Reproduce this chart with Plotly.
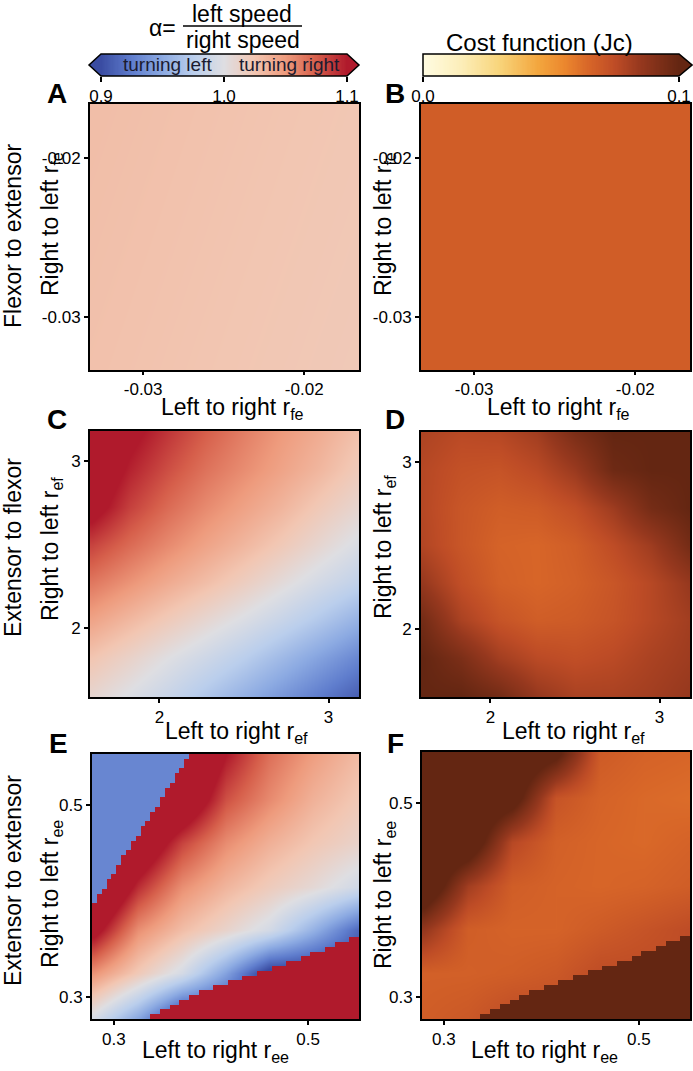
import numpy as np
import plotly.graph_objects as go

W, H = 693, 1071
FONT = "Liberation Sans, Arial, sans-serif"

# ---------------- data ----------------
# Panels A/B : flexor -> extensor coupling (x: left to right r_fe, y: right to left r_fe)
ab_x = [-0.0333, -0.0250, -0.0166]
ab_y = [-0.0333, -0.0250, -0.0166]
a_alpha = [
    [1.028, 1.025, 1.022],
    [1.029, 1.026, 1.023],
    [1.030, 1.027, 1.024],
]
b_cost = [
    [0.068, 0.068, 0.068],
    [0.068, 0.068, 0.068],
    [0.068, 0.068, 0.068],
]

# Panels C/D : extensor -> flexor coupling (r_ef)
cd_x = [1.6, 1.825, 2.05, 2.275, 2.5, 2.725, 2.95, 3.175]
cd_y = [1.6, 1.825, 2.05, 2.275, 2.5, 2.725, 2.95, 3.175]
c_alpha = [
    [1.010, 0.998, 0.985, 0.970, 0.955, 0.940, 0.925, 0.910],
    [1.025, 1.013, 1.000, 0.988, 0.975, 0.960, 0.945, 0.930],
    [1.045, 1.033, 1.021, 1.009, 0.997, 0.984, 0.970, 0.955],
    [1.065, 1.053, 1.041, 1.030, 1.018, 1.005, 0.992, 0.980],
    [1.085, 1.070, 1.057, 1.045, 1.034, 1.022, 1.009, 0.996],
    [1.110, 1.086, 1.070, 1.057, 1.046, 1.035, 1.022, 1.010],
    [1.120, 1.097, 1.081, 1.067, 1.056, 1.045, 1.034, 1.021],
    [1.125, 1.106, 1.090, 1.075, 1.062, 1.050, 1.040, 1.028],
]
d_cost = [
    [0.100, 0.100, 0.095, 0.085, 0.080, 0.080, 0.082, 0.085],
    [0.100, 0.093, 0.082, 0.076, 0.074, 0.076, 0.080, 0.083],
    [0.095, 0.080, 0.072, 0.068, 0.069, 0.072, 0.077, 0.082],
    [0.085, 0.074, 0.067, 0.065, 0.067, 0.071, 0.077, 0.085],
    [0.078, 0.071, 0.066, 0.065, 0.068, 0.075, 0.083, 0.095],
    [0.077, 0.071, 0.068, 0.069, 0.074, 0.083, 0.095, 0.100],
    [0.077, 0.073, 0.072, 0.076, 0.084, 0.097, 0.100, 0.100],
    [0.079, 0.076, 0.077, 0.082, 0.093, 0.100, 0.100, 0.100],
]

# Panels E/F : extensor -> extensor coupling (r_ee), smooth part (coarse samples)
ef_x = [0.28, 0.325, 0.37, 0.415, 0.46, 0.505, 0.55]
ef_y = [0.28, 0.325, 0.37, 0.415, 0.46, 0.505, 0.55]
e_alpha = [
    [0.995, 0.950, 0.890, 0.890, 0.890, 0.890, 0.890],
    [1.053, 1.022, 0.993, 0.945, 0.890, 0.890, 0.890],
    [1.110, 1.055, 1.030, 1.012, 0.992, 0.955, 0.915],
    [1.150, 1.093, 1.055, 1.035, 1.020, 1.007, 0.990],
    [1.150, 1.130, 1.085, 1.056, 1.038, 1.024, 1.013],
    [1.150, 1.150, 1.130, 1.080, 1.057, 1.037, 1.023],
    [1.150, 1.150, 1.150, 1.100, 1.068, 1.048, 1.032],
]
f_cost = [
    [0.068, 0.070, 0.075, 0.075, 0.075, 0.075, 0.075],
    [0.067, 0.067, 0.068, 0.070, 0.075, 0.075, 0.075],
    [0.086, 0.068, 0.066, 0.066, 0.069, 0.072, 0.075],
    [0.115, 0.082, 0.068, 0.066, 0.065, 0.066, 0.068],
    [0.115, 0.113, 0.077, 0.067, 0.065, 0.064, 0.066],
    [0.115, 0.115, 0.108, 0.072, 0.066, 0.064, 0.063],
    [0.115, 0.115, 0.115, 0.104, 0.069, 0.066, 0.065],
]
# E/F fine simulation grid (0.28 .. 0.55, step 0.005) : out-of-regime regions
ef_fine_start = 0.28
ef_fine_step = 0.005
ef_fine_n = 55
# number of cells (from the left) in the turning-left regime, per row (bottom -> top)
e_left_regime_cols = [0] * 24 + [1, 1, 2, 3, 3, 4, 5, 5, 6, 6, 7, 8, 8, 9, 10, 10,
                                 11, 12, 12, 13, 14, 14, 15, 15, 16, 17, 17, 18, 19, 19, 20]
# number of cells (from the right) beyond the colour range, per row (bottom -> top)
e_over_cols = [43, 41, 39, 37, 35, 33, 30, 27, 24, 21, 18, 15, 12, 10, 7, 5, 2] + [0] * 38
e_left_regime_alpha = 0.93
e_over_alpha = 1.2
f_over_cost = 0.12

# colour bars
alpha_ticks = [0.9, 1.0, 1.1]
alpha_ticktext = ["0.9", "1.0", "1.1"]
cost_ticks = [0.0, 0.1]
cost_ticktext = ["0.0", "0.1"]

# ---------------- colours ----------------
alpha_scale = [
    [0.0, "rgb(58,76,162)"], [0.125, "rgb(95,125,205)"], [0.25, "rgb(140,170,226)"],
    [0.375, "rgb(186,206,236)"], [0.5, "rgb(222,222,226)"], [0.625, "rgb(242,198,178)"],
    [0.75, "rgb(238,155,125)"], [0.875, "rgb(214,95,75)"], [1.0, "rgb(176,26,44)"],
]
cost_scale = [
    [0.0, "rgb(255,252,226)"], [0.15, "rgb(252,238,185)"], [0.3, "rgb(248,212,122)"],
    [0.45, "rgb(243,166,62)"], [0.55, "rgb(236,136,46)"], [0.65, "rgb(215,101,40)"],
    [0.75, "rgb(190,76,38)"], [0.85, "rgb(150,56,30)"], [1.0, "rgb(100,38,18)"],
]
ALPHA_UNDER = "rgb(58,76,162)"
ALPHA_OVER = "rgb(176,26,44)"
COST_OVER = "rgb(100,38,18)"


def fx(p):
    return p / W


def fy(p):
    return 1 - p / H


fig = go.Figure()

# ---------------- heatmaps ----------------
def hm(x, y, z, scale, zmin, zmax, ax, smooth="best"):
    fig.add_trace(go.Heatmap(x=x, y=y, z=z, colorscale=scale, zmin=zmin, zmax=zmax,
                             zsmooth=smooth, showscale=False, hoverinfo="skip",
                             xaxis="x" + ax, yaxis="y" + ax))


hm(ab_x, ab_y, a_alpha, alpha_scale, 0.9, 1.1, "")
hm(ab_x, ab_y, b_cost, cost_scale, 0.0, 0.1, "2")
hm(cd_x, cd_y, c_alpha, alpha_scale, 0.9, 1.1, "3")
hm(cd_x, cd_y, d_cost, cost_scale, 0.0, 0.1, "4")
hm(ef_x, ef_y, e_alpha, alpha_scale, 0.9, 1.1, "5")
hm(ef_x, ef_y, f_cost, cost_scale, 0.0, 0.1, "6")

# fine-grid regime regions of E / F
e_regions = []
f_regions = []
for r in range(ef_fine_n):
    row_e = [None] * ef_fine_n
    row_f = [None] * ef_fine_n
    for c in range(e_left_regime_cols[r]):
        row_e[c] = e_left_regime_alpha
    for c in range(ef_fine_n - e_over_cols[r], ef_fine_n):
        row_e[c] = e_over_alpha
        row_f[c] = f_over_cost
    e_regions.append(row_e)
    f_regions.append(row_f)

for z, scale, zmin, zmax, ax in [(e_regions, alpha_scale, 0.9, 1.1, "5"),
                                 (f_regions, cost_scale, 0.0, 0.1, "6")]:
    fig.add_trace(go.Heatmap(z=z, x0=ef_fine_start, dx=ef_fine_step,
                             y0=ef_fine_start, dy=ef_fine_step,
                             colorscale=scale, zmin=zmin, zmax=zmax, zsmooth=False,
                             showscale=False, hoverinfo="skip",
                             xaxis="x" + ax, yaxis="y" + ax))

# colour bar gradients
alpha_bar = np.linspace(alpha_ticks[0], alpha_ticks[-1], 201)
cost_bar = np.linspace(cost_ticks[0], cost_ticks[-1], 201)
fig.add_trace(go.Heatmap(x=alpha_bar, y=[0], z=[alpha_bar], colorscale=alpha_scale,
                         zmin=0.9, zmax=1.1, showscale=False, hoverinfo="skip",
                         xaxis="x7", yaxis="y7"))
fig.add_trace(go.Heatmap(x=cost_bar, y=[0], z=[cost_bar], colorscale=cost_scale,
                         zmin=0.0, zmax=0.1, showscale=False, hoverinfo="skip",
                         xaxis="x8", yaxis="y8"))

# ---------------- axes ----------------
tickfont = dict(family=FONT, size=17, color="black")
axis_style = dict(showline=True, linewidth=2, linecolor="black", mirror=True,
                  ticks="outside", ticklen=4, tickwidth=1.5, tickcolor="black",
                  showgrid=False, zeroline=False, tickfont=tickfont, fixedrange=True,
                  automargin=False)

boxes = {
    "": (90, 359, 104, 370),
    "2": (421, 690, 104, 370),
    "3": (90, 359, 431, 697),
    "4": (421, 690, 432, 697),
    "5": (92, 359, 754, 1019),
    "6": (422, 690, 752, 1019),
}
ranges = {
    "": ([-0.0333, -0.0166], [-0.03, -0.02], ["-0.03", "-0.02"]),
    "2": ([-0.0333, -0.0166], [-0.03, -0.02], ["-0.03", "-0.02"]),
    "3": ([1.59, 3.18], [2, 3], ["2", "3"]),
    "4": ([1.59, 3.18], [2, 3], ["2", "3"]),
    "5": ([0.2775, 0.5525], [0.3, 0.5], ["0.3", "0.5"]),
    "6": ([0.2775, 0.5525], [0.3, 0.5], ["0.3", "0.5"]),
}
layout_axes = {}
for k, (l, r, t, b) in boxes.items():
    rng, tv, tt = ranges[k]
    layout_axes["xaxis" + k] = dict(axis_style, domain=[fx(l), fx(r)], range=rng,
                                    tickvals=tv, ticktext=tt, anchor="y" + k)
    layout_axes["yaxis" + k] = dict(axis_style, domain=[fy(b), fy(t)], range=rng,
                                    tickvals=tv, ticktext=tt, anchor="x" + k)
# top row x tick labels sit a little closer to the frame
layout_axes["xaxis"]["ticklen"] = 3
layout_axes["xaxis2"]["ticklen"] = 3

bar_axis = dict(showline=False, ticks="outside", ticklen=5, tickwidth=1.5,
                tickcolor="black", showgrid=False, zeroline=False, tickfont=tickfont,
                fixedrange=True, automargin=False)
layout_axes["xaxis7"] = dict(bar_axis, domain=[fx(101), fx(347)], range=[0.9, 1.1],
                             tickvals=alpha_ticks, ticktext=alpha_ticktext, anchor="y7")
layout_axes["yaxis7"] = dict(domain=[fy(76), fy(54)], range=[-0.5, 0.5], visible=False,
                             anchor="x7", fixedrange=True)
layout_axes["xaxis8"] = dict(bar_axis, domain=[fx(423), fx(679)], range=[0.0, 0.1],
                             tickvals=cost_ticks, ticktext=cost_ticktext, anchor="y8")
layout_axes["yaxis8"] = dict(domain=[fy(76), fy(54)], range=[-0.5, 0.5], visible=False,
                             anchor="x8", fixedrange=True)


def path(points):
    s = "M " + " L ".join(f"{fx(x):.5f},{fy(y):.5f}" for x, y in points) + " Z"
    return s


shapes = [
    # colour bar extension arrows
    dict(type="path", xref="paper", yref="paper", path=path([(101, 54), (89, 65), (101, 76)]),
         fillcolor=ALPHA_UNDER, line=dict(width=0)),
    dict(type="path", xref="paper", yref="paper", path=path([(347, 54), (359, 65), (347, 76)]),
         fillcolor=ALPHA_OVER, line=dict(width=0)),
    dict(type="path", xref="paper", yref="paper", path=path([(679, 54), (692, 65), (679, 76)]),
         fillcolor=COST_OVER, line=dict(width=0)),
    # outlines
    dict(type="path", xref="paper", yref="paper",
         path=path([(101, 54), (347, 54), (359, 65), (347, 76), (101, 76), (89, 65)]),
         line=dict(color="black", width=1.5), layer="above"),
    dict(type="path", xref="paper", yref="paper",
         path=path([(423, 54), (679, 54), (692, 65), (679, 76), (423, 76)]),
         line=dict(color="black", width=1.5), layer="above"),
    # fraction bar of alpha definition
    dict(type="line", xref="paper", yref="paper", x0=fx(183), x1=fx(302), y0=fy(26), y1=fy(26),
         line=dict(color="black", width=1.6)),
]


def ann(text, x, y, size, angle=0, color="black"):
    return dict(text=text, x=fx(x), y=fy(y), xref="paper", yref="paper", showarrow=False,
                xanchor="center", yanchor="middle", textangle=angle,
                font=dict(family=FONT, size=size, color=color))


TS = 23  # title size
annotations = [
    ann("α=", 162, 28, 23),
    ann("left speed", 242, 14, 23),
    ann("right speed", 243, 40, 23),
    ann("turning left", 167, 64, 19, color="#1b1b30"),
    ann("turning right", 289, 64, 19, color="#1b1b30"),
    ann("Cost function (Jc)", 539, 43, 24),
    # panel letters
    ann("<b>A</b>", 57, 93, 28), ann("<b>B</b>", 395, 93, 28),
    ann("<b>C</b>", 57, 420, 28), ann("<b>D</b>", 395, 420, 28),
    ann("<b>E</b>", 58, 743, 28), ann("<b>F</b>", 395, 743, 28),
    # x titles
    ann("Left to right r<sub>fe</sub>", 233, 408, TS),
    ann("Left to right r<sub>fe</sub>", 558, 408, TS),
    ann("Left to right r<sub>ef</sub>", 236, 732, TS),
    ann("Left to right r<sub>ef</sub>", 573, 732, TS),
    ann("Left to right r<sub>ee</sub>", 215, 1051, TS),
    ann("Left to right r<sub>ee</sub>", 544, 1051, TS),
    # y titles
    ann("Right to left r<sub>fe</sub>", 51, 224, TS, -90),
    ann("Right to left r<sub>fe</sub>", 384, 224, TS, -90),
    ann("Right to left r<sub>ef</sub>", 51, 549, TS, -90),
    ann("Right to left r<sub>ef</sub>", 384, 547, TS, -90),
    ann("Right to left r<sub>ee</sub>", 51, 894, TS, -90),
    ann("Right to left r<sub>ee</sub>", 384, 895, TS, -90),
    # row titles
    ann("Flexor to extensor", 13, 236, TS, -90),
    ann("Extensor to flexor", 13, 548, TS, -90),
    ann("Extensor to extensor", 13, 881, TS, -90),
]

fig.update_layout(width=W, height=H, margin=dict(l=0, r=0, t=0, b=0, autoexpand=False),
                  paper_bgcolor="white", plot_bgcolor="white", showlegend=False,
                  shapes=shapes, annotations=annotations, **layout_axes)

fig.write_html("out.html", config={"displayModeBar": False},
               post_script="document.body.style.margin='0px';")
